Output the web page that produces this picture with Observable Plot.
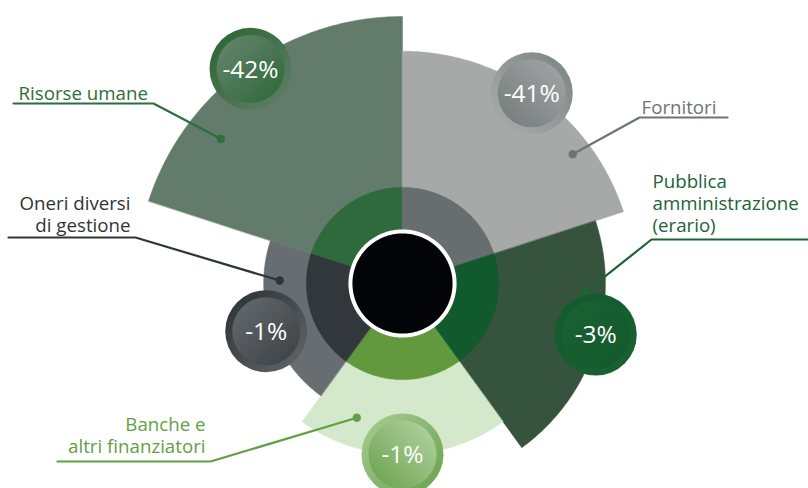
<!DOCTYPE html>
<html><head><meta charset="utf-8">
<script src="https://cdn.jsdelivr.net/npm/d3@7"></script>
<script src="https://cdn.jsdelivr.net/npm/@observablehq/plot@0.6"></script>
<style>html,body{margin:0;padding:0;background:#fff}svg{display:block}</style>
</head><body><div id="chart"></div>
<script>
// ---- data ----
const categories = ["Risorse umane","Fornitori","Pubblica amministrazione (erario)","Banche e altri finanziatori","Oneri diversi di gestione"];
const labelText = ["Risorse umane","Fornitori","Pubblica\namministrazione\n(erario)","Banche e\naltri finanziatori","Oneri diversi\ndi gestione"];
const changes = [-42, -41, -3, -1, -1];
const wedgeValues = [100, 87, 76, 64, 52];   // relative radius of each petal
const innerValue = 36;                       // inner ring radius
const holeValue = 19.5;                      // centre disc radius

// ---- styles ----
const outerColors = ["#637b6a","#a6a9a8","#36533d","#d4e9cb","#676d70"];
const innerColors = ["#2e6a3b","#666e6f","#115a2e","#62993f","#32373b"];
const textColors  = ["#2e6e3c","#6c7474","#1b6434","#62a044","#2f3437"];
const ringGrad  = [["#29642f","#62806a",0,0,1,1],["#7a8282","#abafae",1,0,0,1],["#125a2c","#1a6134",0,0,1,1],["#a9cd97","#67a049",0,0,1,1],["#2a2f32","#62686b",0,0,1,1]];
const innerGrad = [["#6a8671","#2b6737",0,0,1,1],["#a3a8a7","#727979",1,0,0,1],["#1a6134","#125a2c",0,0,1,1],["#b5d6a5","#68a04a",1,0,0,1],["#656b6e","#3a3f42",0,0,1,1]];

// ---- layout ----
const W = 808, H = 488, CX = 402, CY = 283, K = 2.67; // px per unit
const P = (X, Y) => [(X - CX) / K, (CY - Y) / K];      // pixel → data units for annotations
const SPAN = 360 / categories.length, START = -SPAN;
const badgeShift = [0.7, -1.8, -3.2, 0, -1.3];           // degrees off the petal's mid angle
const badgeRf = [0.985, 0.99, 0.985, 1, 1.04];
const annot = [
  {frac:0.285, rf:0.87, elbow:[153,103], end:[13,103],  text:[18,99],   anchor:"start"},
  {frac:0.733, rf:0.92, elbow:[639,117], end:[727,117], text:[641,113], anchor:"start"},
  {frac:0.289, rf:0.90, elbow:[651,239], end:[808,239], text:[652,231], anchor:"start"},
  {frac:0.761, rf:0.83, elbow:[210,461], end:[57,461],  text:[205,452], anchor:"end"},
  {frac:0.769, rf:0.885,elbow:[135,237], end:[8,237],   text:[130,231], anchor:"end"}
];

const rad = d => d * Math.PI / 180;
const polar = (r, a) => [r * Math.sin(rad(a)), r * Math.cos(rad(a))];
function sector(key, r0, r1, a0, a1) {
  const pts = [];
  const n = Math.max(2, Math.ceil(Math.abs(a1 - a0)));
  for (let i = 0; i <= n; i++) { const [x, y] = polar(r1, a0 + (a1 - a0) * i / n); pts.push({key, x, y}); }
  if (r0 > 0) for (let i = n; i >= 0; i--) { const [x, y] = polar(r0, a0 + (a1 - a0) * i / n); pts.push({key, x, y}); }
  else pts.push({key, x: 0, y: 0});
  return pts;
}

const rows = categories.map((c, i) => {
  const a0 = START + SPAN * i, a1 = a0 + SPAN, mid = (a0 + a1) / 2;
  const [bx, by] = polar(wedgeValues[i] * badgeRf[i], mid + badgeShift[i]);
  const an = annot[i];
  const [dx, dy] = polar(wedgeValues[i] * an.rf, a0 + SPAN * an.frac);
  return {i, c, a0, a1, bx, by, dx, dy, label: `${changes[i]}%`, an};
});

const marks = [];
rows.forEach(d => marks.push(Plot.line(sector(d.c, 0, wedgeValues[d.i], d.a0, d.a1), {x:"x", y:"y", curve:"linear-closed", fill: outerColors[d.i], stroke: outerColors[d.i], strokeWidth: 0.5})));
rows.forEach(d => marks.push(Plot.line(sector(d.c, 0, innerValue, d.a0, d.a1), {x:"x", y:"y", curve:"linear-closed", fill: innerColors[d.i], stroke: innerColors[d.i], strokeWidth: 0.5})));
marks.push(Plot.line(sector("hole", 0, holeValue, 0, 360).slice(0, -1), {x:"x", y:"y", curve:"linear-closed", fill:"#030408", stroke:"#ffffff", strokeWidth:4}));

// leader lines + labels
rows.forEach(d => {
  const e = P(...d.an.end), b = P(...d.an.elbow);
  const pts = [{x:e[0], y:e[1]}, {x:b[0], y:b[1]}, {x:d.dx, y:d.dy}];
  marks.push(Plot.line(pts, {x:"x", y:"y", stroke: textColors[d.i], strokeWidth: 2.2}));
  marks.push(Plot.dot([d], {x:"dx", y:"dy", r:4.2, fill: textColors[d.i]}));
  const t = P(...d.an.text);
  marks.push(Plot.text([labelText[d.i]], {x: t[0], y: t[1], text: s => s, textAnchor: d.an.anchor, lineAnchor:"bottom", lineHeight:1.17, fontSize:18.7, fill: textColors[d.i]}));
});

// badges
rows.forEach(d => {
  marks.push(Plot.dot([d], {x:"bx", y:"by", r:41, fill:`url(#ring${d.i})`}));
  marks.push(Plot.dot([d], {x:"bx", y:"by", r:34, fill:`url(#in${d.i})`}));
  marks.push(Plot.text([d], {x:"bx", y:"by", text:"label", fill:"#ffffff", fontSize:24.5, dy:1}));
});

const chart = Plot.plot({
  width: W, height: H, margin: 0,
  x: {domain: [-CX / K, (W - CX) / K], axis: null},
  y: {domain: [-(H - CY) / K, CY / K], axis: null},
  style: {fontFamily: "'Open Sans', sans-serif", background: "#fff"},
  marks
});

const grad = (id, g) => `<linearGradient id="${id}" x1="${g[2]}" y1="${g[3]}" x2="${g[4]}" y2="${g[5]}"><stop offset="0" stop-color="${g[0]}"/><stop offset="1" stop-color="${g[1]}"/></linearGradient>`;
chart.insertAdjacentHTML("afterbegin", `<defs>${ringGrad.map((g, i) => grad("ring" + i, g)).join("")}${innerGrad.map((g, i) => grad("in" + i, g)).join("")}</defs>`);
document.getElementById("chart").appendChild(chart);
</script>
</body></html>
